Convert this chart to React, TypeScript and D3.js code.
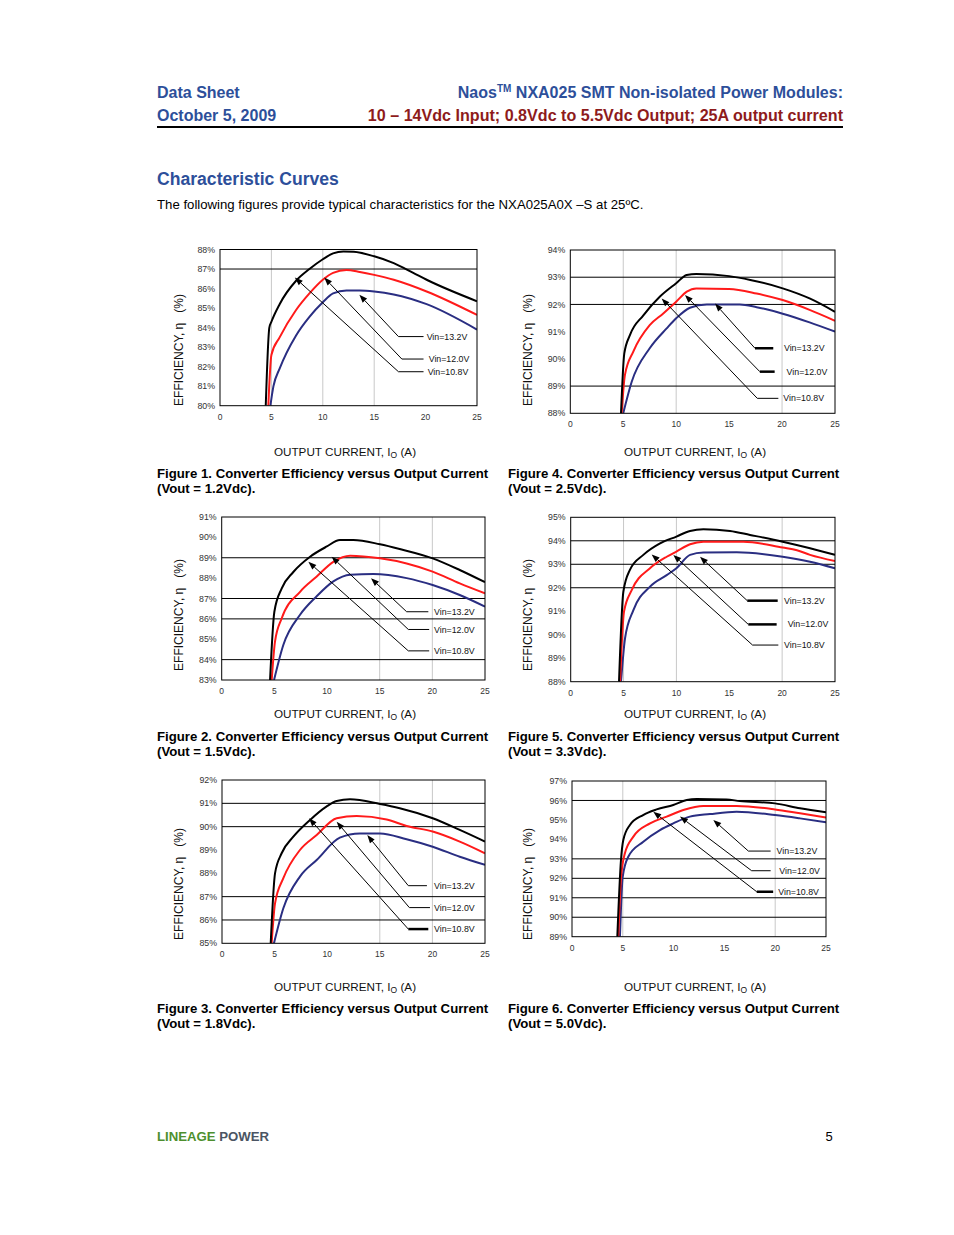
import React from 'react';
import * as d3 from 'd3';

type Pt = [number, number];
type Note = { label: string; tip: Pt; elbow: Pt; endX: number; labelX: number };

const FONT = '"Liberation Sans", Arial, Helvetica, sans-serif';
const BLUE_HEAD = '#2D4F9A';
const RED_HEAD = '#8E1B1B';
const C_BLACK = '#000000';
const C_RED = '#FF1A1A';
const C_BLUE = '#2A2E82';

const xTicks = [0, 5, 10, 15, 20, 25];

// ---------- Figure 1 (Vout = 1.2Vdc) ----------
const fig1YTicks = [80, 81, 82, 83, 84, 85, 86, 87, 88];
const fig1Vin132: Pt[] = [[4.45, 80], [4.8, 84.0], [5.0, 84.3], [5.8, 85.2], [7.4, 86.4], [8.7, 87.0], [10, 87.5], [11, 87.8], [12, 87.9], [13, 87.88], [15, 87.65], [16.9, 87.3], [18.8, 86.8], [20.1, 86.45], [25, 85.35]];
const fig1Vin120: Pt[] = [[4.7, 80], [5.0, 82.6], [5.8, 83.5], [7.4, 84.9], [8.7, 85.75], [10, 86.45], [11, 86.8], [12.3, 86.95], [13.6, 86.85], [15, 86.7], [16.9, 86.45], [20.1, 85.85], [25, 84.65]];
const fig1Vin108: Pt[] = [[4.9, 80], [5.2, 81.0], [5.8, 81.9], [7.4, 83.6], [8.7, 84.55], [10, 85.3], [11, 85.75], [12.3, 85.9], [13.6, 85.9], [15, 85.85], [16.9, 85.7], [20.1, 85.2], [25, 83.9]];
const fig1Notes: Note[] = [
  { label: 'Vin=13.2V', tip: [13.56, 85.68], elbow: [17.36, 83.54], endX: 19.8, labelX: 20.1 },
  { label: 'Vin=12.0V', tip: [10.14, 86.56], elbow: [17.69, 82.39], endX: 19.8, labelX: 20.3 },
  { label: 'Vin=10.8V', tip: [7.28, 86.56], elbow: [17.36, 81.74], endX: 19.8, labelX: 20.2 },
];

// ---------- Figure 4 (Vout = 2.5Vdc) ----------
const fig4YTicks = [88, 89, 90, 91, 92, 93, 94];
const fig4Vin132: Pt[] = [[4.79, 88], [5.1, 90.2], [5.64, 90.88], [6.9, 91.6], [8.47, 92.29], [10, 92.78], [10.99, 93.08], [11.9, 93.12], [15, 93.04], [17, 92.9], [20.06, 92.59], [22.6, 92.22], [25, 91.73]];
const fig4Vin120: Pt[] = [[4.85, 88], [5.16, 89.41], [5.95, 90.27], [7.5, 91.24], [8.78, 91.67], [10, 92.1], [11, 92.47], [11.9, 92.59], [15, 92.57], [17.6, 92.4], [20.06, 92.16], [22.6, 91.8], [25, 91.4]];
const fig4Vin108: Pt[] = [[5.0, 88], [5.8, 89.16], [7.5, 90.39], [9.1, 91.12], [10, 91.49], [11.3, 91.88], [12.9, 92.0], [16, 92.0], [17.6, 91.9], [20.06, 91.66], [22.6, 91.34], [25, 91.0]];
const fig4Notes: Note[] = [
  { label: 'Vin=13.2V', tip: [13.67, 92.03], elbow: [17.44, 90.39], endX: 19.17, labelX: 20.18 },
  { label: 'Vin=12.0V', tip: [10.83, 92.35], elbow: [17.9, 89.53], endX: 19.3, labelX: 20.43 },
  { label: 'Vin=10.8V', tip: [8.63, 92.22], elbow: [17.66, 88.55], endX: 19.65, labelX: 20.12 },
];

// ---------- Figure 2 (Vout = 1.5Vdc) ----------
const fig2YTicks = [83, 84, 85, 86, 87, 88, 89, 90, 91];
const fig2Vin132: Pt[] = [[4.59, 83], [5.0, 86.35], [5.7, 87.5], [6.8, 88.3], [8.39, 89.05], [9.94, 89.54], [11.23, 89.87], [12.5, 89.87], [15.03, 89.66], [16.9, 89.43], [20.03, 88.97], [22.6, 88.4], [25, 87.8]];
const fig2Vin120: Pt[] = [[4.75, 83], [5.06, 84.88], [5.7, 86.03], [7.44, 87.33], [9.0, 88.07], [10.6, 88.8], [12.2, 89.1], [15.03, 88.97], [17.56, 88.72], [20.03, 88.32], [22.6, 87.74], [25, 87.25]];
const fig2Vin108: Pt[] = [[4.97, 83], [5.85, 84.72], [7.44, 86.2], [9.0, 87.1], [10.6, 87.84], [12.2, 88.17], [14.4, 88.2], [17.56, 88.0], [20.03, 87.66], [22.6, 87.17], [25, 86.6]];
const fig2Notes: Note[] = [
  { label: 'Vin=13.2V', tip: [14.18, 87.99], elbow: [17.56, 86.35], endX: 19.62, labelX: 20.16 },
  { label: 'Vin=12.0V', tip: [10.44, 89.05], elbow: [17.72, 85.48], endX: 19.7, labelX: 20.16 },
  { label: 'Vin=10.8V', tip: [8.23, 88.8], elbow: [17.72, 84.43], endX: 19.7, labelX: 20.16 },
];

// ---------- Figure 5 (Vout = 3.3Vdc) ----------
const fig5YTicks = [88, 89, 90, 91, 92, 93, 94, 95];
const fig5Vin132: Pt[] = [[4.57, 88], [4.98, 91.83], [5.6, 92.76], [6.87, 93.4], [8.45, 93.89], [10, 94.18], [11.29, 94.42], [12.55, 94.49], [15.07, 94.42], [16.96, 94.25], [20.05, 93.96], [22.64, 93.68], [25, 93.4]];
const fig5Vin120: Pt[] = [[4.67, 88], [5.04, 90.98], [5.77, 91.9], [7.5, 92.83], [9.08, 93.32], [10, 93.54], [11.29, 93.85], [12.55, 93.96], [16.33, 93.96], [20.05, 93.71], [21.4, 93.6], [22.64, 93.4], [25, 93.14]];
const fig5Vin108: Pt[] = [[4.76, 88], [5.14, 89.85], [5.93, 91.05], [7.5, 92.05], [9.08, 92.54], [10, 92.83], [11.29, 93.4], [12.55, 93.5], [15.7, 93.51], [20.05, 93.32], [22.64, 93.11], [25, 92.83]];
const fig5Notes: Note[] = [
  { label: 'Vin=13.2V', tip: [12.23, 93.32], elbow: [16.7, 91.45], endX: 19.58, labelX: 20.18 },
  { label: 'Vin=12.0V', tip: [9.71, 93.4], elbow: [16.8, 90.44], endX: 19.48, labelX: 20.52 },
  { label: 'Vin=10.8V', tip: [7.66, 93.42], elbow: [17.2, 89.56], endX: 19.64, labelX: 20.18 },
];

// ---------- Figure 3 (Vout = 1.8Vdc) ----------
const fig3YTicks = [85, 86, 87, 88, 89, 90, 91, 92];
const fig3Vin132: Pt[] = [[4.63, 85], [5.04, 88.0], [5.67, 88.86], [6.78, 89.57], [8.37, 90.29], [9.92, 90.86], [10.9, 91.1], [12.17, 91.17], [15.02, 90.97], [16.9, 90.79], [20.03, 90.36], [22.6, 89.86], [25, 89.36]];
const fig3Vin120: Pt[] = [[4.72, 85], [5.04, 86.71], [5.83, 87.79], [7.41, 89.0], [9.0, 89.64], [10.9, 90.36], [12.8, 90.46], [15.65, 90.31], [17.55, 90.03], [20.03, 89.79], [22.6, 89.36], [25, 88.86]];
const fig3Vin108: Pt[] = [[4.94, 85], [5.83, 86.5], [7.41, 87.86], [9.0, 88.57], [11.2, 89.53], [13.1, 89.71], [15.02, 89.71], [17.55, 89.46], [20.03, 89.14], [22.6, 88.71], [25, 88.36]];
const fig3Notes: Note[] = [
  { label: 'Vin=13.2V', tip: [13.81, 89.64], elbow: [17.71, 87.47], endX: 19.48, labelX: 20.15 },
  { label: 'Vin=12.0V', tip: [10.9, 90.21], elbow: [17.81, 86.53], endX: 19.77, labelX: 20.15 },
  { label: 'Vin=10.8V', tip: [8.27, 90.36], elbow: [17.71, 85.61], endX: 19.61, labelX: 20.15 },
];

// ---------- Figure 6 (Vout = 5.0Vdc) ----------
const fig6YTicks = [89, 90, 91, 92, 93, 94, 95, 96, 97];
const fig6Vin132: Pt[] = [[4.46, 89], [4.82, 92.94], [5.05, 93.97], [5.7, 94.74], [7.0, 95.25], [8.33, 95.54], [9.97, 95.77], [11.29, 96.02], [12.27, 96.07], [15.2, 96.05], [16.5, 95.97], [19.98, 95.85], [22.44, 95.6], [25, 95.39]];
const fig6Vin120: Pt[] = [[4.56, 89], [4.82, 92.0], [5.2, 93.28], [6.04, 94.14], [7.68, 94.82], [9.32, 95.17], [10.96, 95.51], [12.93, 95.72], [16.2, 95.72], [19.98, 95.54], [22.44, 95.34], [25, 95.13]];
const fig6Vin108: Pt[] = [[4.72, 89], [4.99, 92.08], [5.54, 93.11], [7.02, 93.88], [8.66, 94.48], [9.97, 94.82], [11.6, 95.17], [13.58, 95.3], [16.2, 95.42], [19.98, 95.25], [22.44, 95.08], [25, 94.88]];
const fig6Notes: Note[] = [
  { label: 'Vin=13.2V', tip: [13.91, 95.0], elbow: [17.36, 93.4], endX: 19.55, labelX: 20.14 },
  { label: 'Vin=12.0V', tip: [10.63, 95.17], elbow: [17.68, 92.39], endX: 19.55, labelX: 20.4 },
  { label: 'Vin=10.8V', tip: [8.0, 95.42], elbow: [18.18, 91.31], endX: 19.8, labelX: 20.3 },
];

type ChartCfg = {
  left: number; top: number; width: number; height: number;
  yTicks: number[]; hGrid: number[]; vGrid: number[];
  s108: Pt[]; s120: Pt[]; s132: Pt[]; notes: Note[]; leaderW: number[];
  xTitleX: number; xTitleY: number; yTitleX: number; yTitleY: number;
  capX: number; capY: number; figNo: number; vout: string;
};

const charts: ChartCfg[] = [
  { left: 220, top: 249.5, width: 257, height: 156.2, yTicks: fig1YTicks, hGrid: [87], vGrid: [5, 10, 15],
    s108: fig1Vin108, s120: fig1Vin120, s132: fig1Vin132, notes: fig1Notes, leaderW: [1, 1, 1],
    xTitleX: 345, xTitleY: 456, yTitleX: 183, yTitleY: 350, capX: 157, capY: 478, figNo: 1, vout: '1.2' },
  { left: 570.3, top: 250, width: 264.7, height: 163.3, yTicks: fig4YTicks, hGrid: [93, 92, 89], vGrid: [5, 10, 20],
    s108: fig4Vin108, s120: fig4Vin120, s132: fig4Vin132, notes: fig4Notes, leaderW: [2.5, 2.5, 1],
    xTitleX: 695, xTitleY: 456, yTitleX: 532, yTitleY: 350, capX: 508, capY: 478, figNo: 4, vout: '2.5' },
  { left: 221.7, top: 517, width: 263.3, height: 163, yTicks: fig2YTicks, hGrid: [89, 87, 86, 84], vGrid: [15, 20],
    s108: fig2Vin108, s120: fig2Vin120, s132: fig2Vin132, notes: fig2Notes, leaderW: [1, 1, 1],
    xTitleX: 345, xTitleY: 718, yTitleX: 183, yTitleY: 615, capX: 157, capY: 741, figNo: 2, vout: '1.5' },
  { left: 570.7, top: 517.3, width: 264.3, height: 164.4, yTicks: fig5YTicks, hGrid: [94, 93, 92], vGrid: [5, 10, 20],
    s108: fig5Vin108, s120: fig5Vin120, s132: fig5Vin132, notes: fig5Notes, leaderW: [2.5, 2.5, 1],
    xTitleX: 695, xTitleY: 718, yTitleX: 532, yTitleY: 615, capX: 508, capY: 741, figNo: 5, vout: '3.3' },
  { left: 222, top: 780, width: 263, height: 163.3, yTicks: fig3YTicks, hGrid: [91, 90, 87, 86], vGrid: [15, 20],
    s108: fig3Vin108, s120: fig3Vin120, s132: fig3Vin132, notes: fig3Notes, leaderW: [1, 1, 2.5],
    xTitleX: 345, xTitleY: 991, yTitleX: 183, yTitleY: 884, capX: 157, capY: 1013, figNo: 3, vout: '1.8' },
  { left: 572, top: 781, width: 254, height: 155.7, yTicks: fig6YTicks, hGrid: [96, 93, 92, 91, 90], vGrid: [5, 20],
    s108: fig6Vin108, s120: fig6Vin120, s132: fig6Vin132, notes: fig6Notes, leaderW: [1, 1, 2.5],
    xTitleX: 695, xTitleY: 991, yTitleX: 532, yTitleY: 884, capX: 508, capY: 1013, figNo: 6, vout: '5.0' },
];

function Chart({ cfg }: { cfg: ChartCfg }) {
  const yDom = d3.extent(cfg.yTicks) as [number, number];
  const x = d3.scaleLinear().domain([0, 25]).range([cfg.left, cfg.left + cfg.width]);
  const y = d3.scaleLinear().domain(yDom).range([cfg.top + cfg.height, cfg.top]);
  const line = d3.line<Pt>().x(d => x(d[0])).y(d => y(d[1])).curve(d3.curveMonotoneX);
  const clipId = `clip-${cfg.figNo}`;
  const series: [Pt[], string][] = [[cfg.s108, C_BLUE], [cfg.s120, C_RED], [cfg.s132, C_BLACK]];

  return (
    <g>
      <defs>
        <clipPath id={clipId}>
          <rect x={cfg.left} y={cfg.top} width={cfg.width} height={cfg.height} />
        </clipPath>
      </defs>
      {cfg.vGrid.map(v => (
        <line key={'v' + v} x1={x(v)} x2={x(v)} y1={cfg.top} y2={cfg.top + cfg.height} stroke="#c8c8c8" strokeWidth={1} />
      ))}
      {cfg.hGrid.map(v => (
        <line key={'h' + v} x1={cfg.left} x2={cfg.left + cfg.width} y1={y(v)} y2={y(v)} stroke="#000" strokeWidth={1} />
      ))}
      <g clipPath={`url(#${clipId})`}>
        {series.map(([d, c], i) => (
          <path key={i} d={line(d) || ''} fill="none" stroke={c} strokeWidth={2} strokeLinejoin="round" />
        ))}
      </g>
      <rect x={cfg.left} y={cfg.top} width={cfg.width} height={cfg.height} fill="none" stroke="#000" strokeWidth={1} />
      {cfg.yTicks.map(t => (
        <text key={'yt' + t} x={cfg.left - 5} y={y(t)} dy="0.35em" textAnchor="end" fontSize={8.8} fill="#333" fontFamily={FONT}>{t}%</text>
      ))}
      {xTicks.map(t => (
        <text key={'xt' + t} x={x(t)} y={cfg.top + cfg.height + 14} textAnchor="middle" fontSize={8.5} fill="#333" fontFamily={FONT}>{t}</text>
      ))}
      {cfg.notes.map((n, i) => {
        const tx = x(n.tip[0]), ty = y(n.tip[1]);
        const ex = x(n.elbow[0]), ey = y(n.elbow[1]);
        const dx = tx - ex, dy = ty - ey;
        const len = Math.hypot(dx, dy);
        const ux = dx / len, uy = dy / len;
        const bx = tx - ux * 8, by = ty - uy * 8;
        const nx = -uy * 3, ny = ux * 3;
        return (
          <g key={'n' + i}>
            <line x1={bx} y1={by} x2={ex} y2={ey} stroke="#000" strokeWidth={1} />
            <line x1={ex} y1={ey} x2={x(n.endX)} y2={ey} stroke="#000" strokeWidth={cfg.leaderW[i]} />
            <polygon points={`${tx},${ty} ${bx + nx},${by + ny} ${bx - nx},${by - ny}`} fill="#000" />
            <text x={x(n.labelX)} y={ey} dy="0.35em" fontSize={8.8} fill="#111" fontFamily={FONT}>{n.label}</text>
          </g>
        );
      })}
      <text transform={`translate(${cfg.yTitleX},${cfg.yTitleY}) rotate(-90)`} textAnchor="middle" fontSize={12} fill="#111" fontFamily={FONT} style={{ whiteSpace: 'pre' }}>
        {'EFFICIENCY, η\u00a0\u00a0\u00a0(%)'}
      </text>
      <text x={cfg.xTitleX} y={cfg.xTitleY} textAnchor="middle" fontSize={11.7} fill="#111" fontFamily={FONT}>
        OUTPUT CURRENT, I<tspan fontSize={8.5} dy={2}>O</tspan><tspan dy={-2}> (A)</tspan>
      </text>
      <text x={cfg.capX} y={cfg.capY} fontSize={13.2} fontWeight="bold" fill="#000" fontFamily={FONT}>
        Figure {cfg.figNo}. Converter Efficiency versus Output Current
      </text>
      <text x={cfg.capX} y={cfg.capY + 15} fontSize={13.2} fontWeight="bold" fill="#000" fontFamily={FONT}>
        (Vout = {cfg.vout}Vdc).
      </text>
    </g>
  );
}

export default function App() {
  return (
    <div style={{ position: 'absolute', left: 0, top: 0 }}>
      <svg width={954} height={1235} viewBox="0 0 954 1235" style={{ display: 'block', background: '#fff' }}>
        <rect x={0} y={0} width={954} height={1235} fill="#fff" />
        <text x={157} y={98} fontSize={16} fontWeight="bold" fill={BLUE_HEAD} fontFamily={FONT}>Data Sheet</text>
        <text x={157} y={121} fontSize={16} fontWeight="bold" fill={BLUE_HEAD} fontFamily={FONT}>October 5, 2009</text>
        <text x={843} y={98} textAnchor="end" fontSize={16} fontWeight="bold" fill={BLUE_HEAD} fontFamily={FONT}>
          Naos<tspan fontSize={10} dy={-6}>TM</tspan><tspan dy={6}> NXA025 SMT Non-isolated Power Modules:</tspan>
        </text>
        <text x={843} y={121} textAnchor="end" fontSize={16.1} fontWeight="bold" fill={RED_HEAD} fontFamily={FONT}>
          10 – 14Vdc Input; 0.8Vdc to 5.5Vdc Output; 25A output current
        </text>
        <line x1={157} x2={843} y1={127} y2={127} stroke="#000" strokeWidth={2} />
        <text x={157} y={185} fontSize={17.6} fontWeight="bold" fill={BLUE_HEAD} fontFamily={FONT}>Characteristic Curves</text>
        <text x={157} y={209} fontSize={13.2} fill="#000" fontFamily={FONT}>
          The following figures provide typical characteristics for the NXA025A0X –S at 25ºC.
        </text>
        {charts.map(c => <Chart key={c.figNo} cfg={c} />)}
        <text x={157} y={1141} fontSize={13.2} fontWeight="bold" fontFamily={FONT}>
          <tspan fill="#4E8F2E">LINEAGE</tspan><tspan fill="#4B5563"> POWER</tspan>
        </text>
        <text x={829} y={1141} textAnchor="middle" fontSize={13} fill="#000" fontFamily={FONT}>5</text>
      </svg>
    </div>
  );
}
